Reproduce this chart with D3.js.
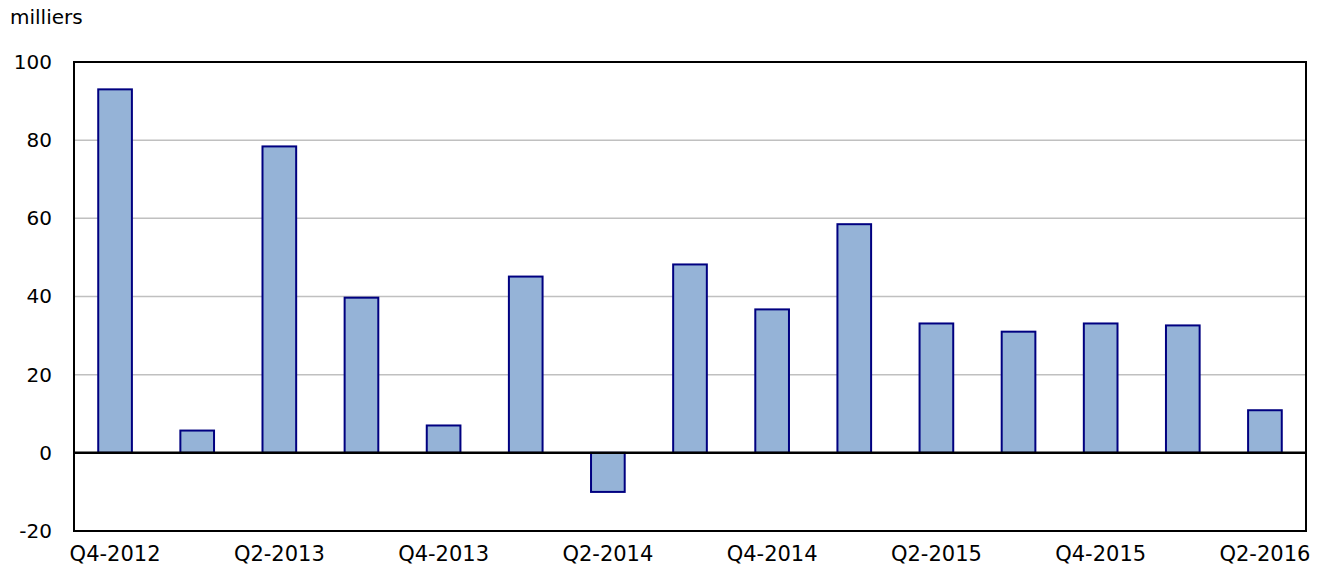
<!DOCTYPE html>
<html><head><meta charset="utf-8">
<script src="https://cdn.jsdelivr.net/npm/d3@7"></script>
<style>body{margin:0;background:#fff}svg{display:block}text{font-family:"DejaVu Sans",Verdana,sans-serif;fill:#000}</style>
</head><body>
<script>
const categories = ["Q4-2012","Q1-2013","Q2-2013","Q3-2013","Q4-2013","Q1-2014","Q2-2014","Q3-2014","Q4-2014","Q1-2015","Q2-2015","Q3-2015","Q4-2015","Q1-2016","Q2-2016"];
const values = [93, 5.7, 78.4, 39.7, 7.0, 45.1, -10, 48.2, 36.7, 58.5, 33.1, 31.0, 33.1, 32.6, 10.9];
const yTicks = [-20, 0, 20, 40, 60, 80, 100];
const xLabels = ["Q4-2012","Q2-2013","Q4-2013","Q2-2014","Q4-2014","Q2-2015","Q4-2015","Q2-2016"];
const unitLabel = "milliers";

const W = 1324, H = 565;
const m = {left: 74, top: 62, right: 1306, bottom: 531};
const FS = 20;
const svg = d3.select("body").append("svg").attr("width", W).attr("height", H);

const x = d3.scaleBand().domain(categories).range([m.left, m.right]).paddingInner(0.59).paddingOuter(0.295);
const y = d3.scaleLinear().domain([-20, 100]).range([m.bottom, m.top]);

// gridlines
svg.append("g").selectAll("line").data(yTicks.filter(t => t !== 0 && t !== -20 && t !== 100)).join("line")
  .attr("x1", m.left).attr("x2", m.right).attr("y1", d => y(d)).attr("y2", d => y(d))
  .attr("stroke", "#c0c0c0").attr("stroke-width", 1.5);

// bars
svg.append("g").selectAll("rect").data(values).join("rect")
  .attr("x", (d, i) => x(categories[i]))
  .attr("width", x.bandwidth())
  .attr("y", d => y(Math.max(0, d)))
  .attr("height", d => Math.abs(y(d) - y(0)))
  .attr("fill", "#95b3d7").attr("stroke", "#000080").attr("stroke-width", 2);

// zero line
svg.append("line").attr("x1", m.left).attr("x2", m.right).attr("y1", y(0)).attr("y2", y(0))
  .attr("stroke", "#000").attr("stroke-width", 2.5);

// frame
svg.append("rect").attr("x", m.left).attr("y", m.top).attr("width", m.right - m.left).attr("height", m.bottom - m.top)
  .attr("fill", "none").attr("stroke", "#000").attr("stroke-width", 2);

// y axis labels
const yAxis = d3.axisLeft(y).tickValues(yTicks).tickFormat(d => String(d)).tickSize(0).tickPadding(22);
const gy = svg.append("g").attr("transform", `translate(${m.left},0)`).call(yAxis);
gy.select(".domain").remove();
gy.attr("font-size", FS).attr("font-family", null);
gy.selectAll("text").attr("fill", "#000");

// x axis labels
const xAxis = d3.axisBottom(x).tickValues(xLabels).tickSize(0).tickPadding(15);
const gx = svg.append("g").attr("transform", `translate(0,${m.bottom})`).call(xAxis);
gx.select(".domain").remove();
gx.attr("font-size", 21).attr("font-family", null);
gx.selectAll("text").attr("fill", "#000");

svg.append("text").attr("x", 10).attr("y", 24).attr("font-size", FS).text(unitLabel);
</script>
</body></html>
